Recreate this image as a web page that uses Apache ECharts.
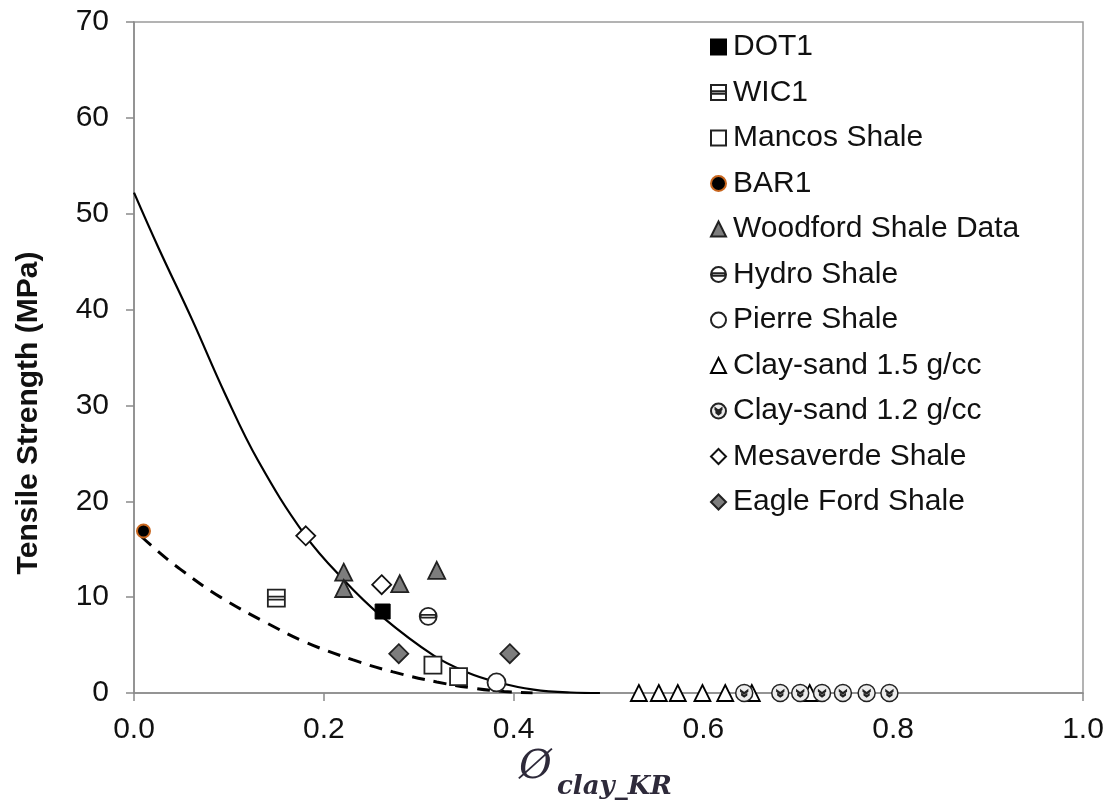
<!DOCTYPE html>
<html>
<head>
<meta charset="utf-8">
<script src="https://cdn.jsdelivr.net/npm/echarts@6/dist/echarts.min.js"></script>
<style>
html,body{margin:0;padding:0;background:#fff;}
#chart{width:1115px;height:803px;}
</style>
</head>
<body>
<div id="chart"></div>
<script>
// ---- data (x = clay fraction, y = tensile strength MPa) ----
const xTicks = [0, 0.2, 0.4, 0.6, 0.8, 1.0];
const yTicks = [0, 10, 20, 30, 40, 50, 60, 70];

const dot1 = [[0.262, 8.5]];
const wic1 = [[0.150, 9.9]];
const mancos = [[0.315, 2.9], [0.342, 1.7]];
const bar1 = [[0.010, 16.9]];
const woodford = [[0.221, 12.6], [0.221, 10.9], [0.280, 11.4], [0.319, 12.8]];
const hydro = [[0.310, 8.0]];
const pierre = [[0.382, 1.1]];
const claySand15 = [[0.532, 0], [0.553, 0], [0.573, 0], [0.599, 0], [0.623, 0], [0.651, 0], [0.712, 0]];
const claySand12 = [[0.643, 0], [0.681, 0], [0.702, 0], [0.725, 0], [0.747, 0], [0.772, 0], [0.796, 0]];
const mesaverde = [[0.181, 16.4], [0.261, 11.3]];
const eagleFord = [[0.279, 4.1], [0.396, 4.1]];

// trend curves
const solidCurve = [[0, 52.2], [0.026, 46.4], [0.061, 39.0], [0.096, 31.2], [0.131, 24.2], [0.180, 16.5],
  [0.221, 11.8], [0.261, 8.0], [0.316, 3.9], [0.350, 2.2], [0.382, 1.15], [0.421, 0.35], [0.460, 0.05], [0.491, 0]];
const dashedCurve = [[0.008, 16.3], [0.025, 14.8], [0.049, 12.9], [0.091, 10.0], [0.140, 7.3], [0.182, 5.25],
  [0.231, 3.45], [0.273, 2.2], [0.319, 1.15], [0.358, 0.5], [0.390, 0.15], [0.420, 0]];

const legendNames = ['DOT1', 'WIC1', 'Mancos Shale', 'BAR1', 'Woodford Shale Data', 'Hydro Shale',
  'Pierre Shale', 'Clay-sand 1.5 g/cc', 'Clay-sand 1.2 g/cc', 'Mesaverde Shale', 'Eagle Ford Shale'];

// ---- symbols / styles ----
const FONT = 'Liberation Sans, Arial, sans-serif';
const bandSquare = 'path://M0,0H10V10H0Z M0,4.1H10V5.9H0Z';
const bandCircle = 'path://M10,5A5,5 0 1,1 0,5A5,5 0 1,1 10,5Z M0.6,4.2H9.4V5.8H0.6Z';
const hatchCircle = 'path://M10,5A5,5 0 1,1 0,5A5,5 0 1,1 10,5Z M3,3.4L5,4.9L7,3.4L7,4L5,5.5L3,4Z M3.6,5.7L5,6.8L6.4,5.7L6.4,6.2L5,7.3L3.6,6.2Z';

function sc(name, data, symbol, size, fill, border, bw) {
  return {
    name: name, type: 'scatter', data: data, symbol: symbol, symbolSize: size, z: 5,
    itemStyle: { color: fill, borderColor: border, borderWidth: bw, opacity: 1 }
  };
}

const chart = echarts.init(document.getElementById('chart'), null, { renderer: 'canvas' });
const option = {
  animation: false,
  backgroundColor: '#fff',
  grid: { left: 134, right: 32, top: 22, bottom: 110, show: true, borderColor: '#9a9a9a', borderWidth: 1.5 },
  xAxis: {
    type: 'value', min: 0, max: 1, interval: 0.2,
    axisLine: { show: true, onZero: false, lineStyle: { color: '#8a8a8a', width: 1.5 } },
    axisTick: { show: true, inside: false, length: 8, lineStyle: { color: '#8a8a8a', width: 1.5 } },
    splitLine: { show: false },
    axisLabel: { fontSize: 30, color: '#111', fontFamily: FONT, margin: 22,
      formatter: v => v.toFixed(1) }
  },
  yAxis: {
    type: 'value', min: 0, max: 70, interval: 10,
    axisLine: { show: true, onZero: false, lineStyle: { color: '#8a8a8a', width: 1.5 } },
    axisTick: { show: true, inside: false, length: 8, lineStyle: { color: '#8a8a8a', width: 1.5 } },
    splitLine: { show: false },
    axisLabel: { fontSize: 30, color: '#111', fontFamily: FONT, margin: 25 }
  },
  legend: {
    data: legendNames,
    orient: 'vertical', left: 705, top: 27,
    itemWidth: 15, itemHeight: 15, itemGap: 15.5,
    textStyle: { fontSize: 30, color: '#111', fontFamily: FONT, lineHeight: 30, padding: [0, 0, 0, 2] },
    selectedMode: false
  },
  graphic: [
    { type: 'text', x: 29, y: 413, rotation: Math.PI / 2,
      style: { text: 'Tensile Strength (MPa)', font: 'bold 30px ' + FONT, fill: '#111',
        align: 'center', verticalAlign: 'middle' } },
    { type: 'text', x: 519, y: 748,
      style: { text: 'Ø', font: 'italic 40px DejaVu Serif, serif', fill: '#2e2a3a' } },
    { type: 'text', x: 557, y: 774,
      style: { text: 'clay_KR', font: 'italic bold 26px DejaVu Serif, serif', fill: '#2e2a3a' } }
  ],
  series: [
    { name: 'fit-solid', type: 'line', data: solidCurve, showSymbol: false, symbol: 'none', smooth: 0.4,
      lineStyle: { color: '#000', width: 2.2 }, z: 2, silent: true },
    { name: 'fit-dashed', type: 'line', data: dashedCurve, showSymbol: false, symbol: 'none', smooth: 0.4,
      lineStyle: { color: '#000', width: 3, type: [13, 9] }, z: 2, silent: true },
    sc('Clay-sand 1.5 g/cc', claySand15, 'triangle', 16, '#fff', '#000', 1.8),
    sc('Clay-sand 1.2 g/cc', claySand12, hatchCircle, 17, '#ececec', '#222', 1.5),
    sc('WIC1', wic1, bandSquare, 17, '#fff', '#222', 1.8),
    sc('Mancos Shale', mancos, 'rect', 17, '#fff', '#222', 1.8),
    sc('Woodford Shale Data', woodford, 'triangle', 17, '#7d7d7d', '#222', 1.8),
    sc('Mesaverde Shale', mesaverde, 'diamond', 19, '#fff', '#111', 1.8),
    sc('Eagle Ford Shale', eagleFord, 'diamond', 19, '#7d7d7d', '#222', 1.8),
    sc('Hydro Shale', hydro, bandCircle, 17, '#fff', '#222', 1.8),
    sc('Pierre Shale', pierre, 'circle', 18, '#fff', '#222', 1.8),
    sc('DOT1', dot1, 'rect', 15, '#000', '#000', 1),
    sc('BAR1', bar1, 'circle', 13, '#000', '#c8661e', 2)
  ]
};
chart.setOption(option);
</script>
</body>
</html>
